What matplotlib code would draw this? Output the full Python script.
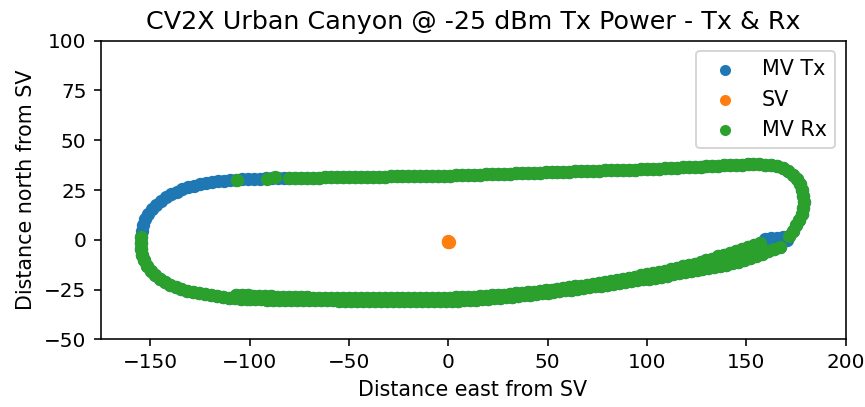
import matplotlib

matplotlib.use("Agg")
import matplotlib.pyplot as plt

# Track positions relative to the SV (metres)

# upper-left turn, only logged by the transmitting MV
tx_arc_east = [-154.2, -153.5, -152.4, -150.9, -149.1, -147.0, -144.7, -142.2, -139.5, -136.7,
               -133.8, -130.8, -127.8, -124.8, -121.8, -118.8, -115.8, -112.8, -109.8, -106.8,
               -103.8, -100.8, -97.8, -94.8, -91.8, -88.8, -85.8, -82.8]
tx_arc_north = [4.5, 7.4, 10.2, 12.9, 15.4, 17.6, 19.6, 21.4, 22.9, 24.2,
                25.4, 26.4, 27.2, 27.9, 28.5, 29.0, 29.4, 29.7, 30.0, 30.2,
                30.4, 30.5, 30.6, 30.7, 30.8, 30.9, 30.9, 31.0]

# small patch near the east end, Tx only
tx_patch_east = [159.5, 162.5, 165.5, 168.5, 170.5, 166.0]
tx_patch_north = [0.5, 0.8, 1.0, 1.2, 0.0, -1.5]

# lower-left turn
left_turn_east = [-154.6, -154.8, -154.6, -154.0, -153.0, -151.6, -149.8, -147.7, -145.3, -142.7,
                  -140.0, -137.2, -134.3, -131.3, -128.3, -125.3, -122.3, -119.3, -116.3, -113.3,
                  -110.3, -107.3, -104.3, -101.3]
left_turn_north = [1.5, -1.5, -4.5, -7.5, -10.3, -13.0, -15.5, -17.7, -19.6, -21.2,
                   -22.6, -23.7, -24.7, -25.6, -26.3, -26.9, -27.4, -27.9, -28.3, -28.7,
                   -29.0, -29.3, -29.5, -29.7]

# southern leg, first lap
lap1_east = [-100, -97, -94, -91, -88, -85, -82, -79, -76, -73,
             -70, -67, -64, -61, -58, -55, -52, -49, -46, -43,
             -40, -37, -34, -31, -28, -25, -22, -19, -16, -13,
             -10, -7, -4, -1, 2, 5, 8, 11, 14, 17,
             20, 23, 26, 29, 32, 35, 38, 41, 44, 47,
             50, 53, 56, 59, 62, 65, 68, 71, 74, 77,
             80, 83, 86, 89, 92, 95, 98, 101, 104, 107,
             110, 113, 116, 119, 122, 125, 128, 131, 134, 137,
             140, 143, 146, 149, 152, 155, 158, 161, 164, 167]
lap1_north = [-29.8, -29.9, -29.9, -30.0, -30.0, -30.1, -30.1, -30.2, -30.2, -30.3,
              -30.3, -30.4, -30.4, -30.5, -30.5, -30.6, -30.6, -30.7, -30.7, -30.8,
              -30.8, -30.8, -30.9, -30.9, -30.9, -30.9, -30.9, -30.9, -30.9, -30.9,
              -30.9, -30.9, -30.8, -30.8, -30.7, -30.6, -30.4, -30.2, -30.1, -29.9,
              -29.7, -29.4, -29.1, -28.8, -28.5, -28.2, -27.9, -27.6, -27.2, -26.8,
              -26.5, -26.1, -25.7, -25.3, -25.0, -24.6, -24.2, -23.8, -23.4, -23.0,
              -22.6, -22.2, -21.7, -21.3, -20.8, -20.4, -19.9, -19.5, -19.0, -18.5,
              -18.0, -17.4, -16.9, -16.4, -15.8, -15.3, -14.8, -14.3, -13.8, -13.3,
              -12.8, -11.9, -11.0, -10.0, -9.0, -8.0, -6.9, -5.8, -4.6, -3.4]

# southern leg, second lap (slightly north of the first one)
lap2_east = [157, 154, 151, 148, 145, 142, 139, 136, 133, 130,
             127, 124, 121, 118, 115, 112, 109, 106, 103, 100,
             97, 94, 91, 88, 85, 82, 79, 76, 73, 70,
             67, 64, 61, 58, 55, 52, 49, 46, 43, 40,
             37, 34, 31, 28, 25, 22, 19, 16, 13, 10,
             7, 4, 1, -2, -5, -8, -11, -14, -17, -20,
             -23, -26, -29, -32, -35, -38, -41, -44, -47, -50,
             -53, -56, -59, -62, -65, -68, -71, -74, -77, -80,
             -83, -86, -89, -92, -95, -98, -101, -104, -107]
lap2_north = [-1.5, -2.4, -3.4, -4.4, -5.4, -6.4, -7.4, -8.4, -9.6, -10.4,
              -11.2, -12.0, -12.7, -13.4, -14.1, -14.8, -15.5, -16.1, -16.7, -17.3,
              -17.9, -18.5, -19.1, -19.6, -20.1, -20.6, -21.1, -21.6, -22.1, -22.6,
              -23.0, -23.4, -23.8, -24.2, -24.6, -25.0, -25.4, -25.7, -26.0, -26.3,
              -26.6, -26.9, -27.2, -27.5, -27.7, -27.9, -28.1, -28.3, -28.5, -28.7,
              -28.8, -28.9, -29.0, -29.1, -29.1, -29.2, -29.2, -29.2, -29.3, -29.3,
              -29.3, -29.3, -29.3, -29.3, -29.3, -29.3, -29.3, -29.3, -29.3, -29.2,
              -29.2, -29.2, -29.1, -29.1, -29.0, -29.0, -28.9, -28.9, -28.8, -28.7,
              -28.6, -28.5, -28.4, -28.3, -28.2, -28.0, -27.9, -27.7, -27.5]

# east turn
right_turn_east = [171.5, 173.5, 175.3, 176.8, 177.9, 178.6, 178.9, 178.7, 178.1, 177.0,
                   175.4, 173.4, 171.0, 168.3, 165.4, 162.4, 159.4, 156.4, 153.6]
right_turn_north = [2.0, 4.5, 7.2, 10.0, 13.0, 16.0, 19.0, 22.0, 25.0, 27.8,
                    30.4, 32.7, 34.5, 35.9, 36.9, 37.5, 37.8, 38.0, 38.0]

# northern leg
top_east = [151, 148, 145, 142, 139, 136, 133, 130, 127, 124,
            121, 118, 115, 112, 109, 106, 103, 100, 97, 94,
            91, 88, 85, 82, 79, 76, 73, 70, 67, 64,
            61, 58, 55, 52, 49, 46, 43, 40, 37, 34,
            31, 28, 25, 22, 19, 16, 13, 10, 7, 4,
            1, -2, -5, -8, -11, -14, -17, -20, -23, -26,
            -29, -32, -35, -38, -41, -44, -47, -50, -53, -56,
            -59, -62, -65, -68, -71, -74, -77, -80]
top_north = [37.9, 37.8, 37.7, 37.5, 37.4, 37.2, 37.1, 36.9, 36.8, 36.7,
             36.5, 36.4, 36.2, 36.1, 35.9, 35.8, 35.6, 35.5, 35.4, 35.3,
             35.2, 35.1, 35.0, 34.9, 34.8, 34.7, 34.6, 34.5, 34.4, 34.3,
             34.2, 34.1, 34.0, 33.9, 33.8, 33.7, 33.6, 33.5, 33.4, 33.3,
             33.2, 33.1, 33.0, 32.9, 32.8, 32.7, 32.6, 32.5, 32.4, 32.3,
             32.2, 32.2, 32.1, 32.1, 32.0, 32.0, 31.9, 31.9, 31.8, 31.8,
             31.8, 31.7, 31.7, 31.6, 31.6, 31.5, 31.5, 31.4, 31.4, 31.4,
             31.3, 31.3, 31.2, 31.2, 31.1, 31.1, 31.0, 31.0]

# a few packets received in the upper-left turn
rx_dots_east = [-106.5, -91.4, -87.3]
rx_dots_north = [29.9, 30.6, 31.3]

# stationary vehicle
sv_east = [0.0, 0.3, -0.2]
sv_north = [-0.6, -0.9, -1.0]

shared_east = left_turn_east + lap1_east + lap2_east + right_turn_east + top_east
shared_north = left_turn_north + lap1_north + lap2_north + right_turn_north + top_north

tx_east = tx_arc_east + tx_patch_east + shared_east
tx_north = tx_arc_north + tx_patch_north + shared_north
rx_east = shared_east + rx_dots_east
rx_north = shared_north + rx_dots_north

fig = plt.figure(figsize=(865 / 144, 407 / 144), dpi=144)
ax = fig.add_axes([0.1162, 0.1663, 0.8613, 0.7337])

ax.scatter(tx_east, tx_north, s=32, label="MV Tx")
ax.scatter(sv_east, sv_north, s=32, label="SV")
ax.scatter(rx_east, rx_north, s=32, label="MV Rx")

ax.set_xlim(-175, 200)
ax.set_ylim(-50, 100)
ax.set_xlabel("Distance east from SV", fontsize=10.3)
ax.set_ylabel("Distance north from SV", fontsize=10.3)
ax.set_title("CV2X Urban Canyon @ -25 dBm Tx Power - Tx & Rx", fontsize=12.7)
ax.legend(loc="upper right", fontsize=10.3, markerscale=0.8)

fig.savefig("out.png", dpi=144)
